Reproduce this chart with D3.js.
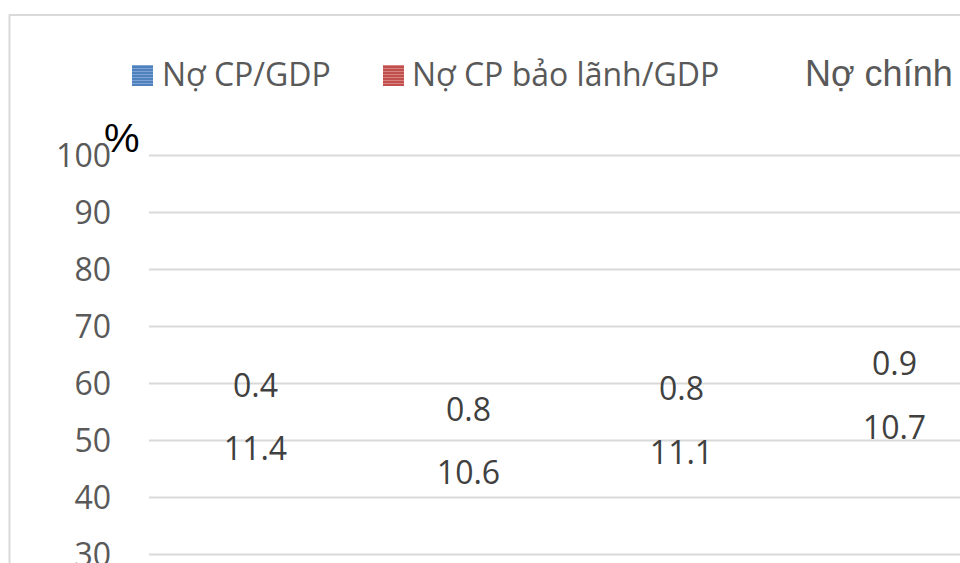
<!DOCTYPE html>
<html>
<head>
<meta charset="utf-8">
<script src="https://cdn.jsdelivr.net/npm/d3@7"></script>
<style>
  html, body { margin: 0; padding: 0; background: #fff; }
  svg { display: block; }
</style>
</head>
<body>
<svg id="chart" width="960" height="563"></svg>
<script>
// Stacked public-debt shares (% of GDP) per period
const categories = ["2011", "2012", "2013", "2014"];
const noCP = [42.8, 39.0, 42.3, 46.9];          // Nợ CP/GDP
const noBaoLanh = [11.4, 10.6, 11.1, 10.7];     // Nợ CP bảo lãnh/GDP
const noDiaPhuong = [0.4, 0.8, 0.8, 0.9];       // Nợ chính quyền địa phương/GDP
const yTicks = [0, 10, 20, 30, 40, 50, 60, 70, 80, 90, 100];
const seriesNames = ["Nợ CP/GDP", "Nợ CP bảo lãnh/GDP", "Nợ chính quyền địa phương/GDP"];

const svg = d3.select("#chart");

// chart area frame
svg.append("rect")
  .attr("x", 9.5).attr("y", 15)
  .attr("width", 1100).attr("height", 700)
  .attr("fill", "#fff")
  .attr("stroke", "#d9d9d9").attr("stroke-width", 2);

// striped fills for the legend keys
const defs = svg.append("defs");
function stripes(id, base, light) {
  const p = defs.append("pattern")
    .attr("id", id).attr("patternUnits", "userSpaceOnUse")
    .attr("width", 6).attr("height", 3);
  p.append("rect").attr("width", 6).attr("height", 3).attr("fill", base);
  p.append("rect").attr("y", 2).attr("width", 6).attr("height", 1).attr("fill", light);
}
stripes("stripeBlue", "#4f81bd", "#7fa3d4");
stripes("stripeRed", "#c0504d", "#d98280");

const x = d3.scaleBand().domain(categories).range([149, 149 + 4 * 213]).padding(0);
const y = d3.scaleLinear().domain([0, 100]).range([725, 155]);

// gridlines + tick labels
const axis = d3.axisLeft(y)
  .tickValues(yTicks)
  .tickSize(-1100)
  .tickPadding(38)
  .tickFormat(d3.format("d"));
const gAxis = svg.append("g").attr("transform", "translate(149,0)").call(axis);
gAxis.select(".domain").remove();
gAxis.selectAll(".tick line").attr("stroke", "#d9d9d9").attr("stroke-width", 2);
gAxis.selectAll(".tick text")
  .attr("fill", "#595959")
  .attr("font-family", "'Open Sans', sans-serif")
  .attr("font-size", 32)
  .attr("dy", "0.36em");

// stacked segments
const rows = categories.map((c, i) => ({ cat: c, cp: noCP[i], bl: noBaoLanh[i], dp: noDiaPhuong[i] }));
const stack = d3.stack().keys(["cp", "bl", "dp"])(rows);

const gBars = svg.append("g");
stack.forEach(layer => {
  gBars.selectAll(null).data(layer).enter().append("rect")
    .attr("x", d => x(d.data.cat) + x.bandwidth() * 0.25)
    .attr("width", x.bandwidth() * 0.5)
    .attr("y", d => y(d[1]))
    .attr("height", d => y(d[0]) - y(d[1]))
    .attr("fill", "none");
});

const labelStyle = sel => sel
  .attr("text-anchor", "middle")
  .attr("font-family", "'Open Sans', sans-serif")
  .attr("font-size", 32)
  .attr("fill", "#404040")
  .attr("dy", "0.36em");

// guaranteed-debt labels, centred in their segment
svg.append("g").selectAll("text").data(stack[1]).enter().append("text")
  .call(labelStyle)
  .attr("x", d => x(d.data.cat) + x.bandwidth() / 2)
  .attr("y", d => y((d[0] + d[1]) / 2))
  .text(d => d.data.bl.toFixed(1));

// local-government debt labels, above the stack top
svg.append("g").selectAll("text").data(stack[2]).enter().append("text")
  .call(labelStyle)
  .attr("x", d => x(d.data.cat) + x.bandwidth() / 2)
  .attr("y", d => y(d[1]) - 28)
  .text(d => d.data.dp.toFixed(1));

// legend
const lg = svg.append("g");
lg.append("rect").attr("x", 132).attr("y", 65).attr("width", 21).attr("height", 21).attr("fill", "url(#stripeBlue)");
lg.append("text").attr("x", 162).attr("y", 86)
  .attr("font-family", "'Open Sans', sans-serif").attr("font-size", 32).attr("fill", "#595959")
  .text(seriesNames[0]);
lg.append("rect").attr("x", 383).attr("y", 65).attr("width", 21).attr("height", 21).attr("fill", "url(#stripeRed)");
lg.append("text").attr("x", 412).attr("y", 86)
  .attr("font-family", "'Open Sans', sans-serif").attr("font-size", 32).attr("fill", "#595959")
  .text(seriesNames[1]);
lg.append("text").attr("x", 805).attr("y", 86)
  .attr("font-family", "'Liberation Sans', Arial, sans-serif").attr("font-size", 36).attr("fill", "#595959")
  .text(seriesNames[2]);

// unit mark
svg.append("text").attr("x", 104).attr("y", 152)
  .attr("font-family", "'Liberation Sans', Arial, sans-serif").attr("font-size", 40).attr("fill", "#000")
  .text("%");
</script>
</body>
</html>
